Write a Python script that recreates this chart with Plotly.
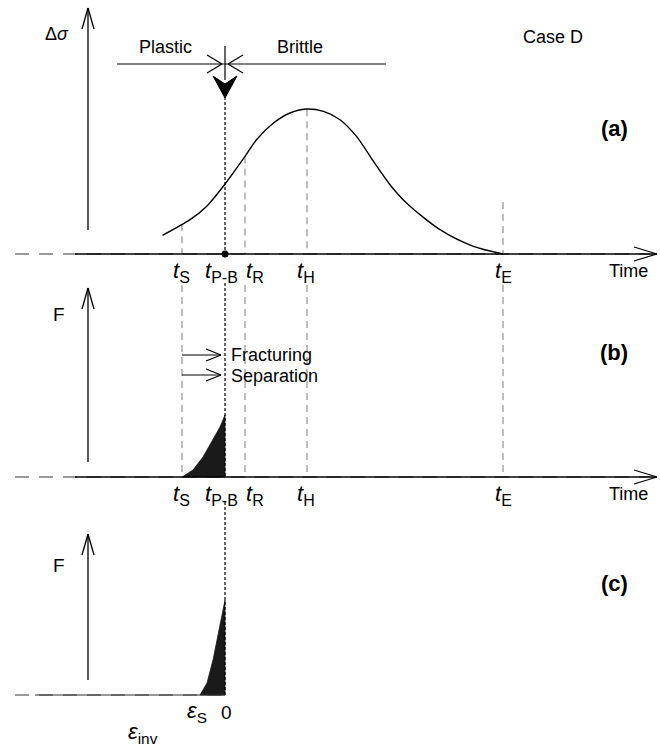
import plotly.graph_objects as go
import numpy as np

W, H = 660, 746

# ---- data (schematic units) ----
t_names = ["S", "P-B", "R", "H", "E"]
t_marks = [1.88, 2.74, 3.14, 4.38, 8.30]          # time markers

# panel (a): stress-difference curve
curve_t = [1.49, 2.04, 2.37, 2.73, 3.14, 3.37, 3.71, 4.04, 4.36, 4.71,
           5.04, 5.37, 5.71, 6.04, 6.37, 7.04, 7.71, 8.30]
curve_ds = [1.86, 3.43, 4.76, 6.93, 9.76, 11.43, 13.10, 14.10, 14.50, 14.26,
            13.43, 11.76, 9.26, 6.93, 5.10, 2.43, 0.76, 0.00]

# panel (b): F versus time (fracturing / separation)
fb_t = [1.88, 2.10, 2.30, 2.50, 2.64, 2.74]
fb_v = [0.0, 0.7, 2.0, 3.7, 5.0, 6.2]

# panel (c): F versus strain
fc_eps = [-1.00, -0.72, -0.48, -0.20, 0.00]
fc_v = [0.0, 1.2, 3.5, 6.8, 9.5]

# ---- helpers for decoration (pixel -> paper) ----
def px(x):
    return x / W

def py(y):
    return 1 - y / H

FONT = "Arial, Liberation Sans, sans-serif"
fig = go.Figure()

shapes = []
annots = []

def pline(x0, y0, x1, y1, color="black", width=1.3, dash="solid", layer="above"):
    shapes.append(dict(type="line", xref="paper", yref="paper",
                       x0=px(x0), y0=py(y0), x1=px(x1), y1=py(y1),
                       line=dict(color=color, width=width, dash=dash), layer=layer))

def dline(xref, yref, x, y0, y1, color, width, dash, layer="below"):
    shapes.append(dict(type="line", xref=xref, yref=yref, x0=x, x1=x, y0=y0, y1=y1,
                       line=dict(color=color, width=width, dash=dash), layer=layer))

def text(x, y, s, size=18, xref="paper", yref="paper", xanchor="center"):
    if xref == "paper":
        x = px(x)
    annots.append(dict(x=x, y=py(y), xref=xref, yref=yref, text=s, showarrow=False,
                       xanchor=xanchor, yanchor="middle",
                       font=dict(family=FONT, size=size, color="black")))

# ---- traces ----
fig.add_trace(go.Scatter(x=curve_t, y=curve_ds, mode="lines", xaxis="x", yaxis="y",
                         line=dict(color="black", width=1.4, shape="spline", smoothing=0.8),
                         hoverinfo="skip", showlegend=False))
fig.add_trace(go.Scatter(x=fb_t + [fb_t[-1], fb_t[0]], y=fb_v + [0, 0], mode="lines",
                         fill="toself", fillcolor="#1a1a1a", xaxis="x2", yaxis="y2",
                         line=dict(color="#1a1a1a", width=0.8), hoverinfo="skip", showlegend=False))
fig.add_trace(go.Scatter(x=fc_eps + [fc_eps[-1], fc_eps[0]], y=fc_v + [0, 0], mode="lines",
                         fill="toself", fillcolor="#1a1a1a", xaxis="x3", yaxis="y3",
                         line=dict(color="#1a1a1a", width=0.8), hoverinfo="skip", showlegend=False))
fig.add_trace(go.Scatter(x=[t_marks[1]], y=[0], mode="markers", xaxis="x", yaxis="y",
                         marker=dict(color="black", size=7), hoverinfo="skip", showlegend=False))

# ---- vertical marker lines ----
GRAY = "#9a9a9a"
for name, t in zip(t_names, t_marks):
    if name == "P-B":
        dline("x", "y", t, 15.7, 0, "black", 1.2, "3px,2px", "above")
        dline("x2", "y2", t, 19.4, 0, "black", 1.2, "3px,2px", "above")
        dline("x3", "y3", 0, 19.3, 0, "black", 1.2, "3px,2px", "above")
    else:
        top = float(np.interp(t, curve_t, curve_ds)) if name != "E" else 5.2
        dline("x", "y", t, top, 0, GRAY, 1.3, "7px,5px")
        dline("x2", "y2", t, 19.2, 0, GRAY, 1.3, "7px,5px")

# ---- axes drawn as arrows ----
for (ytop, ybot, yb) in [(8, 230, 29), (288, 462, 309), (534, 680, 555)]:
    pline(88, ybot, 88, ytop)
    pline(88, ytop, 82, yb)
    pline(88, ytop, 94, yb)

for yb in [254, 477]:
    pline(15, yb, 650, yb, color="#7a7a7a", width=1.6, dash="14px,10px", layer="below")
    pline(75, yb, 657, yb, color="black", width=1.3)
    pline(657, yb, 634, yb - 7)
    pline(657, yb, 634, yb + 7)

pline(15, 695, 225, 695, color="#7a7a7a", width=1.6, dash="14px,10px", layer="below")
pline(35, 695, 225, 695, color="#333333", width=1.0)

# plastic / brittle arrows
pline(117, 64, 386, 64, width=1.2)
pline(207, 55, 222, 64, width=1.2)
pline(207, 73, 222, 64, width=1.2)
pline(243, 55, 228, 64, width=1.2)
pline(243, 73, 228, 64, width=1.2)
pline(225, 46, 225, 80, width=1.2)
path = "M {} {} L {} {} L {} {} L {} {} Z".format(
    px(213), py(76), px(225), py(84), px(237), py(76), px(225), py(98))
shapes.append(dict(type="path", xref="paper", yref="paper", path=path,
                   fillcolor="black", line=dict(color="black", width=1)))

# fracturing / separation arrows
for yy in [355, 375]:
    pline(182, yy, 221, yy, width=1.2)
    pline(206, yy - 6, 221, yy, width=1.2)
    pline(206, yy + 6, 221, yy, width=1.2)

# ---- texts ----
text(57, 34, "Δ<i>σ</i>", size=18)
text(165, 47, "Plastic", size=18)
text(300, 47, "Brittle", size=18)
text(553, 37, "Case D", size=18)
text(614, 128, "<b>(a)</b>", size=22)
text(614, 352, "<b>(b)</b>", size=22)
text(614, 583, "<b>(c)</b>", size=22)
text(59, 315, "F", size=19)
text(59, 565, "F", size=19)
text(229, 355, "Fracturing", size=18, xanchor="left")
text(229, 376, "Separation", size=18, xanchor="left")
text(628, 271, "Time", size=18)
text(628, 494, "Time", size=18)

label_shift = {"S": -0.02, "P-B": -0.08, "R": 0.2, "H": -0.02, "E": 0.0}
for xr, yrow in [("x", 272), ("x2", 495)]:
    for name, t in zip(t_names, t_marks):
        text(t + label_shift[name], yrow,
             "<i>t</i><sub><span style='font-size:16px'>{}</span></sub>".format(name),
             size=22, xref=xr)

text(197, 712, "<i>ε</i><sub>S</sub>", size=22)
text(226, 712, "0", size=19)
text(143, 733, "<i>ε</i><sub>inv</sub>", size=22)

# ---- layout ----
ax_common = dict(visible=False, showgrid=False, zeroline=False, fixedrange=True)
fig.update_layout(
    width=W, height=H, autosize=False,
    margin=dict(l=0, r=0, t=0, b=0, pad=0),
    paper_bgcolor="white", plot_bgcolor="white",
    showlegend=False,
    xaxis=dict(domain=[0, 1], range=[-88 / 50, (W - 88) / 50], anchor="y", **ax_common),
    xaxis2=dict(domain=[0, 1], range=[-88 / 50, (W - 88) / 50], anchor="y2", **ax_common),
    xaxis3=dict(domain=[0, 1], range=[-225 / 25, (W - 225) / 25], anchor="y3", **ax_common),
    yaxis=dict(domain=[1 - 262 / H, 1], range=[-0.8, 25.4], anchor="x", **ax_common),
    yaxis2=dict(domain=[1 - 500 / H, 1 - 262 / H], range=[-2.3, 21.5], anchor="x2", **ax_common),
    yaxis3=dict(domain=[0, 1 - 500 / H], range=[-5.1, 19.5], anchor="x3", **ax_common),
    shapes=shapes,
    annotations=annots,
    font=dict(family=FONT, color="black"),
)

fig.write_html("out.html")
